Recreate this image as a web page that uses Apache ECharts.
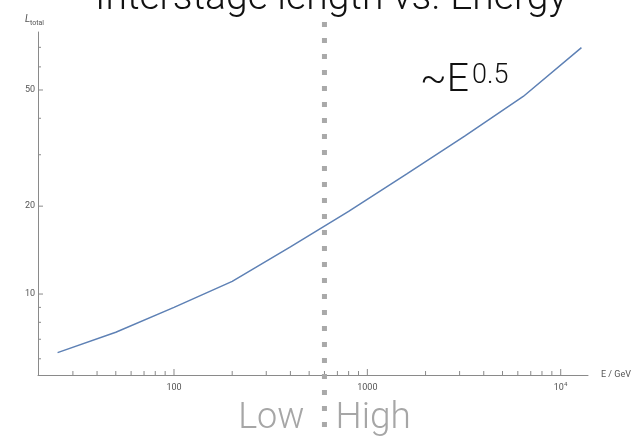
<!DOCTYPE html>
<html>
<head>
<meta charset="utf-8">
<script src="https://cdn.jsdelivr.net/npm/echarts@6/dist/echarts.min.js"></script>
<style>
  html, body { margin: 0; padding: 0; background: #ffffff; }
  #chart { width: 642px; height: 436px; }
</style>
</head>
<body>
<div id="chart"></div>
<script>
// Interstage length versus beam energy (log-log)
const energy      = [25, 50, 100, 200, 400, 800, 1600, 3200, 6400, 12800];
const lengthTotal = [6.3, 7.4, 9.0, 11.05, 14.5, 19.2, 25.8, 34.8, 47.5, 69.8];

// Axis ranges and tick positions
const xRange = [19.8, 13840];
const yRange = [5.28, 79];
const xMajorTicks = [100, 1000, 10000];
const xMajorLabels = ['100', '1000', '10^4'];
const xMinorTicks = [30, 40, 50, 60, 70, 80, 90,
                     200, 300, 400, 500, 600, 700, 800, 900,
                     2000, 3000, 4000, 5000, 6000, 7000, 8000, 9000];
const yMajorTicks = [10, 20, 50];
const yMajorLabels = ['10', '20', '50'];
const yMinorTicks = [6, 7, 8, 9, 30, 40, 60, 70];

// Low / high energy boundary
const boundaryEnergy = 600;

const axisGrey = '#8a8a8a';
const labelGrey = '#555555';
const curveBlue = '#5E81B5';
const FONT = 'Roboto, "Open Sans", sans-serif';

const chart = echarts.init(document.getElementById('chart'), null, { renderer: 'canvas' });

function xTickSeries(values, len) {
  return {
    type: 'custom',
    coordinateSystem: 'cartesian2d',
    clip: false,
    silent: true,
    z: 3,
    data: values.map(v => [v, yRange[0]]),
    renderItem: (params, api) => {
      const p = api.coord([api.value(0), api.value(1)]);
      return {
        type: 'line',
        shape: { x1: p[0], y1: p[1], x2: p[0], y2: p[1] - len },
        style: { stroke: axisGrey, lineWidth: 1 }
      };
    }
  };
}

function yTickSeries(values, len) {
  return {
    type: 'custom',
    coordinateSystem: 'cartesian2d',
    clip: false,
    silent: true,
    z: 3,
    data: values.map(v => [xRange[0], v]),
    renderItem: (params, api) => {
      const p = api.coord([api.value(0), api.value(1)]);
      return {
        type: 'line',
        shape: { x1: p[0], y1: p[1], x2: p[0] + len, y2: p[1] },
        style: { stroke: axisGrey, lineWidth: 1 }
      };
    }
  };
}

const option = {
  backgroundColor: '#ffffff',
  animation: false,
  grid: { left: 38, right: 54, top: 32, bottom: 61, containLabel: false },
  xAxis: {
    type: 'log',
    logBase: 10,
    min: xRange[0],
    max: xRange[1],
    axisLine: { show: true, onZero: false, lineStyle: { color: axisGrey, width: 1 } },
    axisTick: { show: false },
    axisLabel: { show: false },
    splitLine: { show: false }
  },
  yAxis: {
    type: 'log',
    logBase: 10,
    min: yRange[0],
    max: yRange[1],
    axisLine: { show: true, onZero: false, lineStyle: { color: axisGrey, width: 1 } },
    axisTick: { show: false },
    axisLabel: { show: false },
    splitLine: { show: false }
  },
  graphic: [
    {
      type: 'text', z: 10, x: 331, y: -1,
      style: { text: 'Interstage length vs. Energy',
               font: '300 39px ' + FONT, fill: '#111111',
               align: 'center', verticalAlign: 'middle' }
    },
    {
      type: 'text', z: 10, x: 25, y: 14,
      style: { text: 'L', font: 'italic 10px ' + FONT, fill: labelGrey }
    },
    {
      type: 'text', z: 10, x: 30, y: 20,
      style: { text: 'total', font: '7px ' + FONT, fill: labelGrey }
    },
    {
      type: 'text', z: 10, x: 601, y: 370,
      style: { text: 'E / GeV', font: '9px ' + FONT, fill: labelGrey }
    },
    {
      type: 'text', z: 10, x: 420, y: 62,
      style: { text: '~E', font: '300 39px ' + FONT, fill: '#111111' }
    },
    {
      type: 'text', z: 10, x: 472, y: 63,
      style: { text: '0.5', font: '300 27px ' + FONT, fill: '#111111' }
    }
  ],
  series: [
    xTickSeries(xMajorTicks, 6),
    xTickSeries(xMinorTicks, 4),
    yTickSeries(yMajorTicks, 5),
    yTickSeries(yMinorTicks, 3),
    {
      // x tick labels
      type: 'custom',
      coordinateSystem: 'cartesian2d',
      clip: false,
      silent: true,
      data: xMajorTicks.map((v, i) => [v, yRange[0], i]),
      renderItem: (params, api) => {
        const p = api.coord([api.value(0), api.value(1)]);
        const txt = xMajorLabels[api.value(2)];
        if (txt.indexOf('^') >= 0) {
          const parts = txt.split('^');
          return {
            type: 'group',
            children: [
              { type: 'text', x: p[0] - 2, y: p[1] + 13,
                style: { text: parts[0], font: '9px ' + FONT, fill: labelGrey,
                         align: 'center', verticalAlign: 'middle' } },
              { type: 'text', x: p[0] + 5, y: p[1] + 9,
                style: { text: parts[1], font: '6px ' + FONT, fill: labelGrey,
                         align: 'center', verticalAlign: 'middle' } }
            ]
          };
        }
        return {
          type: 'text', x: p[0], y: p[1] + 13,
          style: { text: txt, font: '9px ' + FONT, fill: labelGrey,
                   align: 'center', verticalAlign: 'middle' }
        };
      }
    },
    {
      // y tick labels
      type: 'custom',
      coordinateSystem: 'cartesian2d',
      clip: false,
      silent: true,
      data: yMajorTicks.map((v, i) => [xRange[0], v, i]),
      renderItem: (params, api) => {
        const p = api.coord([api.value(0), api.value(1)]);
        return {
          type: 'text', x: p[0] - 3, y: p[1],
          style: { text: yMajorLabels[api.value(2)], font: '9px ' + FONT, fill: labelGrey,
                   align: 'right', verticalAlign: 'middle' }
        };
      }
    },
    {
      // dotted boundary with the Low / High captions
      type: 'custom',
      coordinateSystem: 'cartesian2d',
      clip: false,
      silent: true,
      z: 4,
      data: [[boundaryEnergy]],
      renderItem: (params, api) => {
        const top = api.coord([api.value(0), yRange[1]]);
        const bottom = api.coord([api.value(0), yRange[0]]);
        const x = top[0];
        return {
          type: 'group',
          children: [
            { type: 'line',
              shape: { x1: x, y1: top[1] - 10, x2: x, y2: bottom[1] + 57 },
              style: { stroke: '#a9a9a9', lineWidth: 5, lineDash: [5, 11], lineCap: 'butt' } },
            { type: 'text', x: x - 20, y: bottom[1] + 44,
              style: { text: 'Low', font: '300 36px ' + FONT, fill: '#a6a6a6',
                       align: 'right', verticalAlign: 'middle' } },
            { type: 'text', x: x + 11, y: bottom[1] + 44,
              style: { text: 'High', font: '300 37px ' + FONT, fill: '#a6a6a6',
                       align: 'left', verticalAlign: 'middle' } }
          ]
        };
      }
    },
    {
      type: 'line',
      data: energy.map((e, i) => [e, lengthTotal[i]]),
      showSymbol: false,
      smooth: false,
      z: 5,
      lineStyle: { color: curveBlue, width: 1.5 }
    }
  ]
};

chart.setOption(option);
</script>
</body>
</html>
